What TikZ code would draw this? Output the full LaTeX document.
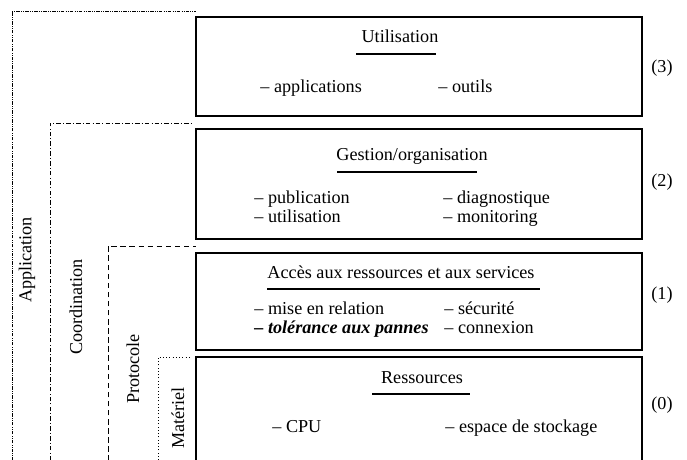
\documentclass[tikz,border=0pt]{standalone}
\usepackage{fontspec}
\setmainfont{Liberation Serif}
\usetikzlibrary{positioning}

\begin{document}
\begin{tikzpicture}[x=0.55pt, y=-0.55pt,
    txt/.style={inner sep=0pt, anchor=base},
    item/.style={inner sep=0pt, anchor=base west},
    couche/.style={line width=0.6pt},
    trait/.style={line width=0.6pt}]
    \clip (0,0) rectangle (687,459);

    % Layers
    \draw[couche] (196,17) rectangle (642,116);
    \draw[couche] (196,129) rectangle (642,239);
    \draw[couche] (196,253) rectangle (642,350);
    \draw[couche] (196,470) -- (196,357) -- (642,357) -- (642,470);

    % Utilisation
    \node[txt] (util) at (400,42) {Utilisation};
    \draw[trait] (356,54) -- (436,54);
    \node[item] (appl) at (260,92) {-- applications};
    \node[item] (outils) at (438,92) {-- outils};

    % Gestion
    \node[txt] (gest) at (412,160) {Gestion/organisation};
    \draw[trait] (337,172) -- (477,172);
    \node[item] (publi) at (254,203) {-- publication};
    \node[item] (usage) at (254,222) {-- utilisation};
    \node[item] (diag) at (443,203) {-- diagnostique};
    \node[item] (monit) at (443,222) {-- monitoring};

    % Acces
    \node[txt] (acces) at (401,278) {Accès aux ressources et aux services};
    \draw[trait] (267,289) -- (540,289);
    \node[item] (relation) at (254,314) {-- mise en relation};
    \node[item] (pannes) at (254,333) {\textbf{\textit{-- tolérance aux pannes}}};
    \node[item] (secu) at (444,314) {-- sécurité};
    \node[item] (connex) at (444,333) {-- connexion};

    % Ressources
    \node[txt] (ress) at (422,383) {Ressources};
    \draw[trait] (372,394) -- (470,394);
    \node[item] (cpu) at (272,432) {-- CPU};
    \node[item] (stock) at (445,432) {-- espace de stockage};

    % Levels
    \node (n3) at (662,68) {(3)};
    \node (n2) at (662,182) {(2)};
    \node (n1) at (662,295) {(1)};
    \node (n0) at (662,405) {(0)};

    % Groups
    \draw[dash pattern=on 2pt off 0.7pt on 0.4pt off 0.7pt on 0.4pt off 0.7pt]
        (12,470) -- (12,11) -- (196,11);
    \draw[dash pattern=on 2.5pt off 1.2pt on 0.5pt off 1.2pt]
        (50,470) -- (50,123) -- (192,123);
    \draw[dash pattern=on 3pt off 2pt] (108,470) -- (108,246) -- (196,246);
    \draw[dash pattern=on 0.5pt off 1.3pt] (158,470) -- (158,357) -- (190,357);
    \node[rotate=90] (appli) at (27,260) {Application};
    \node[rotate=90] (coord) at (76,307) {Coordination};
    \node[rotate=90] (proto) at (133,369) {Protocole};
    \node[rotate=90] (mat) at (178,418) {Matériel};
\end{tikzpicture}
\end{document}
